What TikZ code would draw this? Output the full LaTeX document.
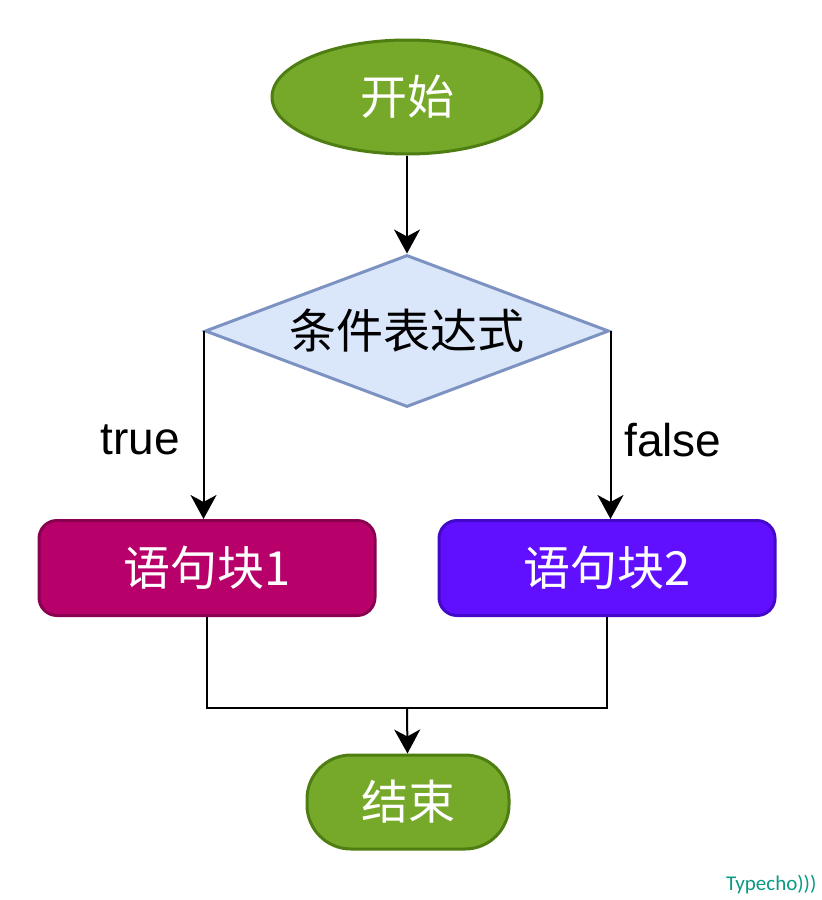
\documentclass[tikz,border=0pt]{standalone}
\usepackage{fontspec}
\setmainfont{Liberation Sans}
\newfontfamily\cjk{Noto Sans CJK SC}
\newfontfamily\markfont{Carlito}
\usepackage{tikz}
\usetikzlibrary{
  arrows.meta,
  shapes.geometric
}
\definecolor{termfill}{HTML}{76A92A}
\definecolor{termdraw}{HTML}{4E7D12}
\definecolor{condfill}{HTML}{DAE6FA}
\definecolor{conddraw}{HTML}{7C93C2}
\definecolor{onefill}{HTML}{B8006A}
\definecolor{onedraw}{HTML}{8A0050}
\definecolor{twofill}{HTML}{6010FF}
\definecolor{twodraw}{HTML}{4308C8}
\definecolor{marktext}{HTML}{0A9A84}
\tikzset{
  >={Stealth[length=24pt, width=26pt, inset=7pt]},
  line cap=round,
  line join=round,
  terminal/.style={ellipse, draw=termdraw, fill=termfill, line width=3pt,
    text=white, font=\cjk\fontsize{47}{50}\selectfont},
  stopbox/.style={draw=termdraw, fill=termfill, line width=3pt, rounded corners=44pt,
    text=white, font=\cjk\fontsize{47}{50}\selectfont, minimum width=202pt, minimum height=94pt},
  decision/.style={diamond, draw=conddraw, fill=condfill, line width=3pt, inner sep=0pt,
    aspect=2.65, font=\cjk\fontsize{47}{50}\selectfont},
  block/.style={draw, rounded corners=18pt, line width=3pt, minimum width=336pt,
    minimum height=95pt, text=white, font=\cjk\fontsize{47}{50}\selectfont},
  arrow/.style={->, line width=2pt},
  link/.style={line width=2pt},
  branch/.style={font=\fontsize{46}{50}\selectfont}
}
\begin{document}
\begin{tikzpicture}[x=1pt, y=-1pt]
  \useasboundingbox (0,0) rectangle (822,900);

  \node[terminal, minimum width=270pt, minimum height=114pt] (start) at (407,97) {开始};
  \node[decision, minimum width=404pt, minimum height=152pt] (cond) at (407,331) {条件表达式};
  \node[block, draw=onedraw, fill=onefill] (blk1) at (207,568) {语句块1};
  \node[block, draw=twodraw, fill=twofill] (blk2) at (607,568) {语句块2};
  \node[stopbox] (stop) at (408,802) {结束};
  \coordinate (join) at (407,708);

  \draw[arrow] (start) -- (cond);
  \draw[arrow] (cond.west) -- (cond.west |- blk1.north);
  \draw[arrow] (cond.east) -- (cond.east |- blk2.north);
  \draw[link] (blk1.south) |- (join) -| (blk2.south);
  \draw[arrow] (join) -- (stop);

  \node[branch] (yes) at (140,440) {true};
  \node[branch] (no) at (673,440) {false};

  \node[anchor=east, text=marktext, font=\markfont\fontsize{21}{24}\selectfont] (mark) at (820,885) {Typecho)))};
\end{tikzpicture}
\end{document}
